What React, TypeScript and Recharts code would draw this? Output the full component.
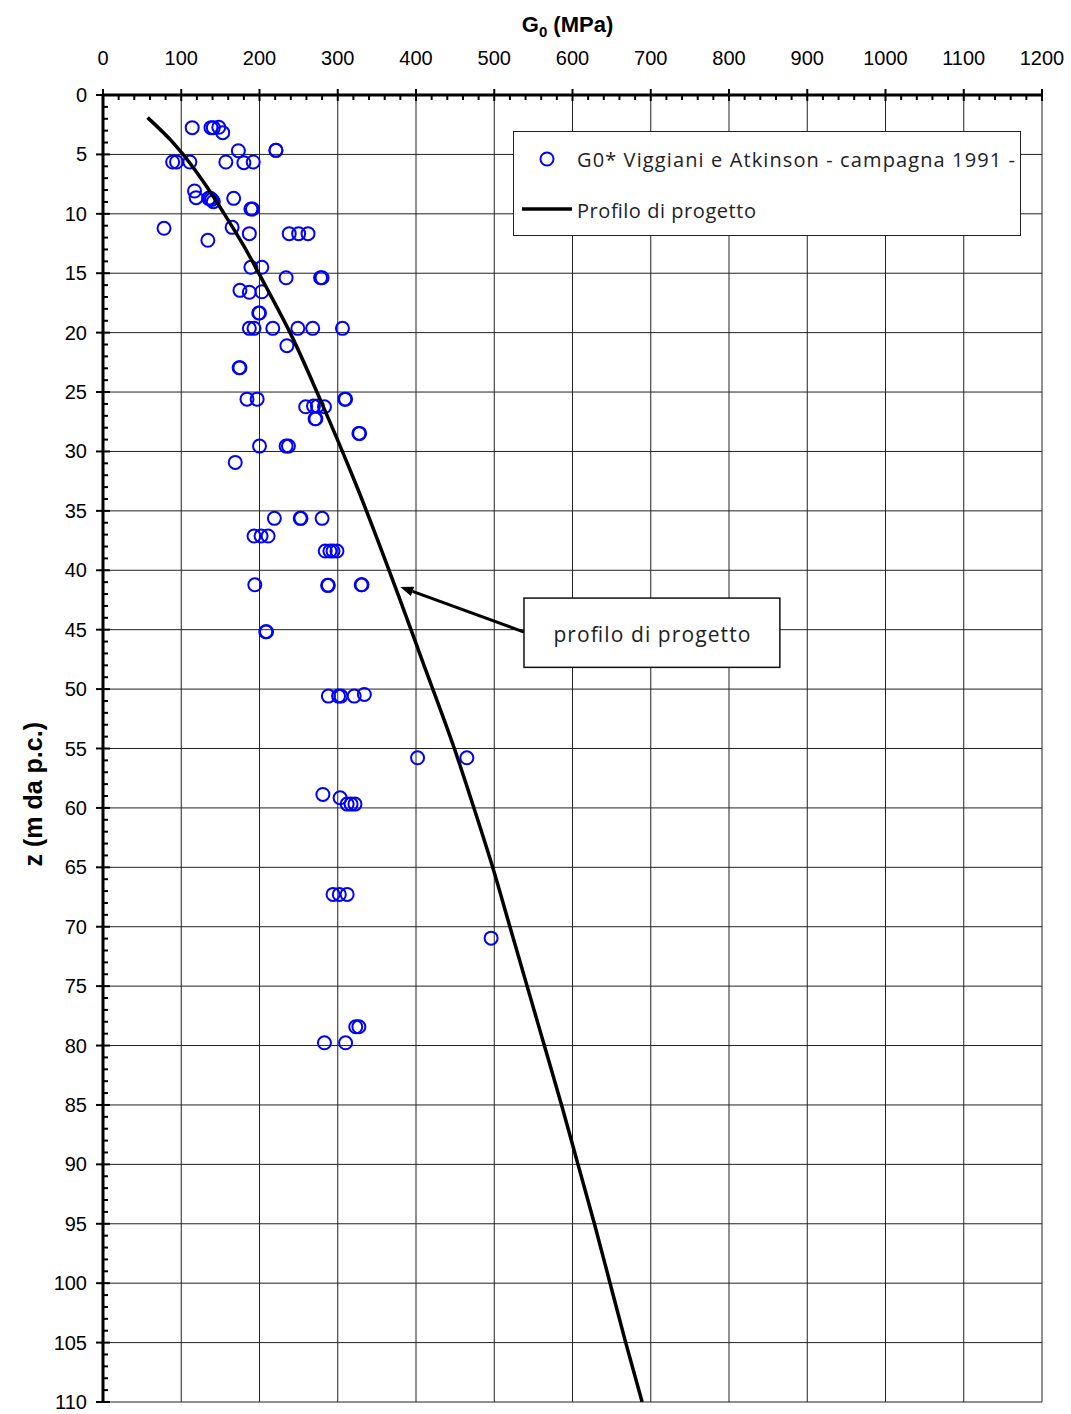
import React from 'react';
import { ScatterChart, Scatter, XAxis, YAxis, ReferenceLine, Legend } from 'recharts';

// misure G0 campagna 1991: [z (m da p.c.), G0 (MPa)]
const campagna1991: [number, number][] = [
  [2.75, 114], [2.75, 138], [2.75, 141], [2.72, 148], [3.17, 153],
  [4.69, 173], [4.66, 221], [4.66, 221],
  [5.64, 89], [5.64, 94], [5.64, 111], [5.64, 157], [5.7, 180], [5.64, 192],
  [8.08, 117], [8.64, 119], [8.7, 135], [8.7, 137], [8.8, 139], [8.98, 141], [8.7, 167],
  [9.6, 189], [9.6, 191],
  [11.22, 78], [12.23, 134], [11.14, 165], [11.67, 187], [11.67, 238], [11.67, 250], [11.67, 262],
  [14.5, 189], [14.5, 203], [15.38, 234], [15.38, 278], [15.38, 280],
  [16.44, 175], [16.6, 187], [16.56, 203], [18.35, 199], [18.35, 200],
  [19.64, 187], [19.64, 193], [19.64, 217], [19.64, 249], [19.64, 268], [19.64, 306],
  [21.1, 235], [22.95, 174], [22.95, 175],
  [25.6, 184], [25.6, 197], [25.6, 309], [25.6, 310],
  [26.24, 259], [26.18, 269], [26.18, 274], [26.24, 283], [27.25, 271], [27.25, 272],
  [28.48, 327], [28.48, 328],
  [29.55, 200], [29.55, 234], [29.55, 237], [30.92, 169],
  [35.63, 219], [35.63, 252], [35.63, 253], [35.63, 280],
  [37.12, 193], [37.12, 202], [37.12, 211],
  [38.38, 284], [38.38, 290], [38.38, 294], [38.38, 299],
  [41.22, 194], [41.27, 287], [41.27, 288], [41.22, 330], [41.22, 331],
  [45.17, 208], [45.17, 209],
  [50.59, 288], [50.59, 301], [50.59, 304], [50.59, 321], [50.45, 334],
  [55.78, 402], [55.78, 465],
  [58.87, 281], [59.15, 303], [59.68, 312], [59.68, 317], [59.68, 322],
  [67.28, 294], [67.28, 302], [67.28, 312],
  [70.96, 496],
  [78.42, 323], [78.42, 327], [79.77, 283], [79.77, 310],
];

// profilo di progetto: [z, G0]
const profiloProgetto: [number, number][] = [
  [1.9, 57], [3.9, 88], [4.9, 101], [6.9, 124], [10, 155], [12.6, 179], [16.1, 208],
  [20, 239], [25.7, 278], [32.4, 321], [42.2, 378], [47.6, 408], [55, 449], [60, 474],
  [65, 498], [70, 520], [75, 542], [80, 564], [85, 586], [90, 607], [95, 628],
  [100, 648], [105, 668], [110, 689],
];

const xMajorTicks = [0, 100, 200, 300, 400, 500, 600, 700, 800, 900, 1000, 1100, 1200];
const yMajorTicks = [0, 5, 10, 15, 20, 25, 30, 35, 40, 45, 50, 55, 60, 65, 70, 75, 80, 85, 90, 95, 100, 105, 110];
const xAllTicks = Array.from({ length: 61 }, (_, i) => i * 20);
const yAllTicks = Array.from({ length: 111 }, (_, i) => i);

const measured = campagna1991.map(([z, g]) => ({ z, g }));
const profile = profiloProgetto.map(([z, g]) => ({ z, g }));

const arial = '"Liberation Sans", Arial, sans-serif';
const gothic = '"Open Sans", sans-serif';

const XTick = (props: any) => {
  const { x, y, payload } = props;
  const major = payload.value % 100 === 0;
  return (
    <g>
      <line x1={x} x2={x} y1={major ? y - 6 : y} y2={y + (major ? 6 : 5)} stroke="#000" strokeWidth={2} />
      {major && (
        <text x={x} y={y - 30} textAnchor="middle" fontSize={20} fontFamily={arial} fill="#000">
          {payload.value}
        </text>
      )}
    </g>
  );
};

const YTick = (props: any) => {
  const { x, y, payload } = props;
  const major = payload.value % 5 === 0;
  return (
    <g>
      <line x1={major ? x - 7 : x} x2={x + (major ? 7 : 5)} y1={y} y2={y} stroke="#000" strokeWidth={2} />
      {major && (
        <text x={x - 16} y={y + 7} textAnchor="end" fontSize={20} fontFamily={arial} fill="#000">
          {payload.value}
        </text>
      )}
    </g>
  );
};

const XTitle = ({ viewBox }: any) => (
  <text x={viewBox.x + viewBox.width / 2 - 5} y={viewBox.y + 32} textAnchor="middle" fontSize={22} fontWeight="bold" fontFamily={arial} fill="#000">
    G<tspan fontSize={15} dy={5}>0</tspan>
    <tspan dy={-5}> (MPa)</tspan>
  </text>
);

const YTitle = ({ viewBox }: any) => {
  const cx = viewBox.x + 34;
  const cy = viewBox.y + viewBox.height * 0.535;
  return (
    <text x={cx} y={cy} transform={`rotate(-90 ${cx} ${cy})`} dy={8} textAnchor="middle" fontSize={25} fontWeight="bold" fontFamily={arial} fill="#000">
      z (m da p.c.)
    </text>
  );
};

const Ring = (props: any) => (
  <circle cx={props.cx} cy={props.cy} r={6.5} fill="none" stroke="#0000FF" strokeWidth={2} />
);

// freccia dalla casella verso la curva
const Arrow = (props: any) => {
  const { x1, y1, x2, y2 } = props;
  const dx = x2 - x1;
  const dy = y2 - y1;
  const len = Math.hypot(dx, dy);
  const ux = dx / len;
  const uy = dy / len;
  const bx = x2 - ux * 13;
  const by = y2 - uy * 13;
  return (
    <g>
      <line x1={x1} y1={y1} x2={bx} y2={by} stroke="#000" strokeWidth={3} />
      <polygon points={`${x2},${y2} ${bx - uy * 5},${by + ux * 5} ${bx + uy * 5},${by - ux * 5}`} fill="#000" />
    </g>
  );
};

// casella di testo "profilo di progetto"
const NoteBox = (props: any) => {
  const { x1, y1, x2, y2 } = props;
  const left = Math.min(x1, x2);
  const top = Math.min(y1, y2);
  const w = Math.abs(x2 - x1);
  const h = Math.abs(y2 - y1);
  return (
    <g>
      <rect x={left} y={top} width={w} height={h} fill="#fff" stroke="#111" strokeWidth={1.5} />
      <text x={left + w / 2} y={top + h / 2 + 9} textAnchor="middle" fontSize={21} fontFamily={gothic} fill="#222" textLength={197} lengthAdjust="spacing">
        profilo di progetto
      </text>
    </g>
  );
};

const LegendBox = () => (
  <svg width={508} height={105} style={{ display: 'block' }}>
    <rect x={0.5} y={0.5} width={507} height={104} fill="#fff" stroke="#222" strokeWidth={1} />
    <circle cx={34} cy={28} r={6.5} fill="none" stroke="#0000FF" strokeWidth={2} />
    <text x={64} y={36} fontSize={20} fontFamily={gothic} fill="#222" textLength={438} lengthAdjust="spacing">
      G0* Viggiani e Atkinson - campagna 1991 -
    </text>
    <line x1={9} x2={59} y1={78} y2={78} stroke="#000" strokeWidth={3.5} />
    <text x={64} y={87} fontSize={20} fontFamily={gothic} fill="#222" textLength={179} lengthAdjust="spacing">
      Profilo di progetto
    </text>
  </svg>
);

export default function App() {
  return (
    <div style={{ position: 'absolute', left: 0, top: 0, width: 1071, height: 1414, background: '#fff', overflow: 'hidden' }}>
      <ScatterChart width={1071} height={1414} margin={{ top: 0, right: 29, bottom: 12, left: 0 }}>
        {xMajorTicks.map(v => (
          <ReferenceLine key={'gx' + v} x={v} stroke="#222" strokeWidth={1} />
        ))}
        {yMajorTicks.map(v => (
          <ReferenceLine key={'gy' + v} y={v} stroke="#222" strokeWidth={1} />
        ))}
        <XAxis
          type="number"
          dataKey="g"
          orientation="top"
          domain={[0, 1200]}
          ticks={xAllTicks}
          interval={0}
          height={95}
          tickSize={0}
          tickMargin={0}
          tickLine={false}
          tick={<XTick />}
          axisLine={{ stroke: '#000', strokeWidth: 3 }}
          allowDataOverflow
          label={{ content: <XTitle /> }}
        />
        <YAxis
          type="number"
          dataKey="z"
          reversed
          domain={[0, 110]}
          ticks={yAllTicks}
          interval={0}
          width={103}
          tickSize={0}
          tickMargin={0}
          tickLine={false}
          tick={<YTick />}
          axisLine={{ stroke: '#000', strokeWidth: 3 }}
          allowDataOverflow
          label={{ content: <YTitle /> }}
        />
        <ReferenceLine segment={[{ x: 538, y: 42.34 }, { x: 865, y: 48.17 }]} shape={<NoteBox />} />
        <ReferenceLine segment={[{ x: 538, y: 45.2 }, { x: 380, y: 41.4 }]} shape={<Arrow />} />
        <Scatter name="G0* Viggiani e Atkinson - campagna 1991 -" data={measured} shape={<Ring />} isAnimationActive={false} />
        <Scatter
          name="Profilo di progetto"
          data={profile}
          shape={() => <g />}
          line={{ stroke: '#000', strokeWidth: 3.5 }}
          lineJointType="monotoneY"
          isAnimationActive={false}
        />
        <Legend
          layout="horizontal"
          verticalAlign="middle"
          align="center"
          content={() => <LegendBox />}
          wrapperStyle={{ left: 513, top: 131, width: 508, height: 105 }}
        />
      </ScatterChart>
    </div>
  );
}
